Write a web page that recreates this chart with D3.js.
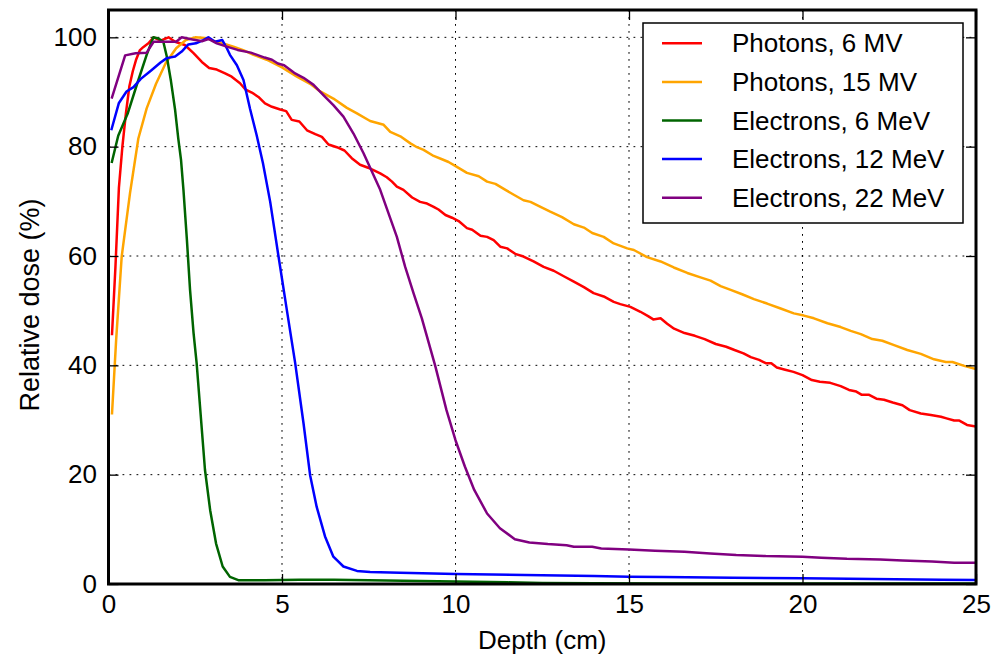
<!DOCTYPE html>
<html>
<head>
<meta charset="utf-8">
<script src="https://cdn.jsdelivr.net/npm/d3@7/dist/d3.min.js"></script>
<style>
  html, body { margin: 0; padding: 0; background: #fff; }
  svg { display: block; font-family: "Liberation Sans", Arial, sans-serif; }
</style>
</head>
<body>
<svg id="chart" width="994" height="660"></svg>
<script>
// ---- Data ----
const seriesNames = ["Photons, 6 MV", "Photons, 15 MV", "Electrons, 6 MeV", "Electrons, 12 MeV", "Electrons, 22 MeV"];
const seriesColors = ["#ff0000", "#ffa500", "#006400", "#0000ff", "#800080"];

const redDepth = [0.1,0.2,0.3,0.4,0.5,0.6,0.7,0.8,0.9,1.0,1.15,1.3,1.5,1.73,1.92,2.2,2.45,2.69,2.9,3.12,3.36,3.55,3.79,3.94,4.13,4.32,4.51,4.71,4.95,5.12,5.28,5.5,5.72,5.96,6.15,6.34,6.58,6.8,7.01,7.25,7.5,7.83,8.02,8.17,8.31,8.5,8.75,8.98,9.18,9.37,9.51,9.71,9.9,10.09,10.33,10.48,10.72,10.91,11.1,11.29,11.49,11.72,11.96,12.25,12.54,12.83,13.12,13.41,13.7,13.98,14.27,14.56,14.75,15.04,15.33,15.55,15.7,15.91,16.1,16.3,16.6,16.9,17.18,17.5,17.8,18.04,18.3,18.51,18.75,18.94,19.1,19.26,19.5,19.74,20.0,20.27,20.5,20.8,21.1,21.34,21.55,21.71,21.92,22.13,22.35,22.6,22.88,23.09,23.41,23.7,23.99,24.15,24.37,24.52,24.74,25.0];
const redDose = [45.5,58,72.5,80,86,91,93.8,96,97.6,98.2,98.9,100,99.4,100,99.2,98.6,97.1,95.5,94.4,94.1,93.4,92.8,91.6,90.5,89.9,89.1,87.9,87.3,86.8,86.5,84.9,84.6,83.0,82.3,81.8,80.4,79.9,79.3,77.9,76.7,76.1,75.1,74.4,73.6,72.7,72.1,70.7,69.9,69.6,69.0,68.5,67.5,67.0,66.4,65.1,64.8,63.7,63.5,62.9,61.7,61.4,60.4,59.9,59.0,58.0,57.3,56.3,55.3,54.3,53.2,52.6,51.6,51.2,50.7,49.8,49.0,48.4,48.6,47.6,46.7,45.9,45.4,44.8,43.9,43.4,42.8,42.2,41.5,41.0,40.4,40.4,39.6,39.2,38.8,38.2,37.3,37.0,36.8,36.2,35.5,35.2,34.6,34.6,33.9,33.7,33.2,32.7,31.8,31.2,30.9,30.6,30.3,29.9,29.9,29.1,28.8];

const orangeDepth = [0.1,0.22,0.38,0.62,0.86,1.1,1.37,1.65,1.95,2.23,2.5,2.78,3.02,3.3,3.6,3.9,4.18,4.56,5.0,5.43,5.81,6.1,6.48,6.87,7.16,7.54,7.93,8.12,8.41,8.7,8.89,9.08,9.37,9.61,9.8,10.04,10.33,10.67,10.91,11.15,11.44,11.68,11.96,12.16,12.45,12.73,13.07,13.41,13.7,13.94,14.27,14.56,14.95,15.14,15.52,15.91,16.29,16.68,17.06,17.35,17.64,17.93,18.26,18.6,18.98,19.37,19.75,20.04,20.33,20.72,21.1,21.39,21.68,22.01,22.3,22.64,23.02,23.41,23.79,24.13,24.32,24.66,25.0];
const orangeDose = [31,44.6,59.9,71.5,81.5,87.0,91.5,95.3,98.0,99.5,100,99.9,99.4,98.9,98.3,97.6,96.8,95.9,94.5,92.8,91.5,90.1,88.8,87.1,86.1,84.7,84.0,82.7,81.9,80.6,79.9,79.4,78.3,77.7,77.2,76.3,75.2,74.6,73.6,73.2,72.1,71.2,70.2,69.9,69.0,68.1,67.1,65.8,65.2,64.2,63.5,62.3,61.4,61.1,59.8,59.0,57.9,56.9,56.1,55.5,54.5,53.8,53.0,52.1,51.3,50.4,49.5,49.1,48.6,47.7,47.0,46.3,45.7,44.8,44.5,43.7,42.8,42.1,41.1,40.6,40.6,39.9,39.3];

const greenDepth = [0.09,0.28,0.55,0.83,1.1,1.29,1.44,1.58,1.68,1.8,1.92,2.01,2.09,2.16,2.26,2.35,2.45,2.54,2.78,2.93,3.1,3.29,3.5,3.74,4.5,5.5,6.5,7.5,8.5,9.5,10.5,11.5,12.5,14,16,18,20,22,25];
const greenDose = [77,82,86,91.6,96.8,100,99.8,99.2,96.5,92,86.7,81.5,77.6,72.1,62.9,53.8,46,40.4,20.9,13.5,7.4,3.2,1.3,0.7,0.7,0.8,0.8,0.7,0.6,0.5,0.4,0.3,0.2,0.15,0.1,0.1,0.1,0.1,0.1];

const blueDepth = [0.08,0.3,0.52,0.72,0.93,1.22,1.5,1.68,1.92,2.11,2.3,2.52,2.73,2.88,3.07,3.28,3.41,3.5,3.7,3.89,4.08,4.27,4.45,4.66,4.9,5.14,5.38,5.62,5.81,6.0,6.24,6.48,6.77,7.16,7.54,8.4,10,12,14,15,16,18,20,22,24,25];
const blueDose = [83,88,90.1,90.9,92.4,93.9,95.4,96.2,96.5,97.4,98.7,98.9,99.5,100,99.2,99.5,98.0,96.8,94.9,92.2,86.9,82.1,77,69.9,59.9,50.1,40.4,29.4,19.9,14.1,8.7,5.0,3.2,2.4,2.2,2.07,1.83,1.65,1.45,1.34,1.27,1.15,1.03,0.92,0.8,0.74];

const purpleDepth = [0.09,0.48,0.78,1.1,1.3,1.68,1.95,2.11,2.42,2.71,2.88,3.12,3.41,3.72,4.1,4.5,4.71,4.88,5.06,5.35,5.62,5.91,6.2,6.48,6.77,7.06,7.35,7.83,8.07,8.31,8.55,8.79,9.03,9.15,9.42,9.74,10.0,10.27,10.54,10.91,11.28,11.71,12.13,12.66,13.2,13.41,13.94,14.2,15.0,15.75,16.6,17.34,18.09,18.94,20.0,20.54,21.28,22.24,22.88,23.73,24.37,25.0];
const purpleDose = [88.8,96.7,97.1,97.2,99.2,99.2,99.2,100,99.6,99.3,99.7,98.9,98.3,97.7,97.2,96.3,95.9,95.2,94.9,93.5,92.6,91.3,89.4,87.6,85.5,82.4,78.8,72.1,67.8,63.5,58.0,53.2,48.6,45.9,39.8,31.8,26.3,21.5,17.2,12.9,10.2,8.2,7.6,7.3,7.1,6.8,6.8,6.5,6.3,6.1,5.9,5.6,5.3,5.1,5.0,4.8,4.6,4.5,4.3,4.1,3.9,3.9];

const xTicks = [0, 5, 10, 15, 20, 25];
const yTicks = [0, 20, 40, 60, 80, 100];
const xLabel = "Depth (cm)";
const yLabel = "Relative dose (%)";

// ---- Build ----
const depths = [redDepth, orangeDepth, greenDepth, blueDepth, purpleDepth];
const doses = [redDose, orangeDose, greenDose, blueDose, purpleDose];
const series = seriesNames.map((name, i) => ({
  name, color: seriesColors[i],
  points: depths[i].map((d, j) => [d, doses[i][j]])
}));

const svg = d3.select("#chart");
const margin = { left: 108.5, right: 994 - 976, top: 10, bottom: 660 - 584 };
const W = 994, H = 660;
const x = d3.scaleLinear().domain([0, 25]).range([margin.left, W - margin.right]);
const y = d3.scaleLinear().domain([0, 105]).range([H - margin.bottom, margin.top]);

const FS = 26;

// grid
const grid = svg.append("g").attr("stroke", "#000").attr("stroke-width", 1).attr("stroke-dasharray", "1.8,5.2");
grid.selectAll("line.gx").data(xTicks.slice(1, -1)).join("line")
  .attr("x1", d => x(d)).attr("x2", d => x(d)).attr("y1", y(105)).attr("y2", y(0));
grid.selectAll("line.gy").data(yTicks.slice(1)).join("line")
  .attr("y1", d => y(d)).attr("y2", d => y(d)).attr("x1", x(0)).attr("x2", x(25));

// clip
svg.append("clipPath").attr("id", "clip").append("rect")
  .attr("x", x(0)).attr("y", y(105)).attr("width", x(25) - x(0)).attr("height", y(0) - y(105));

const line = d3.line().x(d => x(d[0])).y(d => y(d[1]));
svg.append("g").attr("clip-path", "url(#clip)")
  .selectAll("path").data(series).join("path")
  .attr("d", d => line(d.points))
  .attr("fill", "none").attr("stroke", d => d.color).attr("stroke-width", 2.5)
  .attr("stroke-linejoin", "round");

// axes with inward ticks on all four sides
const tl = 10;
const axB = d3.axisBottom(x).tickValues(xTicks).tickSize(-tl).tickPadding(11).tickFormat(d3.format("d"));
const axT = d3.axisTop(x).tickValues(xTicks).tickSize(-tl).tickFormat("");
const axL = d3.axisLeft(y).tickValues(yTicks).tickSize(-tl).tickPadding(11.5).tickFormat(d3.format("d"));
const axR = d3.axisRight(y).tickValues(yTicks).tickSize(-tl).tickFormat("");

function style(g) {
  g.select(".domain").remove();
  g.selectAll(".tick line").attr("stroke", "#000").attr("stroke-width", 1.3);
  g.selectAll(".tick text").attr("fill", "#000").attr("font-size", FS)
    .attr("font-family", "'Liberation Sans', Arial, sans-serif");
}
svg.append("g").attr("transform", `translate(0,${y(0)})`).call(axB).call(style);
svg.append("g").attr("transform", `translate(0,${y(105)})`).call(axT).call(style);
svg.append("g").attr("transform", `translate(${x(0)},0)`).call(axL).call(style);
svg.append("g").attr("transform", `translate(${x(25)},0)`).call(axR).call(style);

// frame
svg.append("rect").attr("x", x(0)).attr("y", y(105)).attr("width", x(25) - x(0)).attr("height", y(0) - y(105))
  .attr("fill", "none").attr("stroke", "#000").attr("stroke-width", 3);

// axis labels
svg.append("text").attr("x", (x(0) + x(25)) / 2).attr("y", 640).attr("dy", "0.35em")
  .attr("text-anchor", "middle").attr("font-size", FS).text(xLabel);
svg.append("text").attr("transform", `translate(30,${(y(0) + y(105)) / 2 + 8}) rotate(-90)`).attr("dy", "0.35em")
  .attr("text-anchor", "middle").attr("font-size", 27).text(yLabel);

// legend
const lg = svg.append("g");
lg.append("rect").attr("x", 643).attr("y", 23).attr("width", 320).attr("height", 200)
  .attr("fill", "#fff").attr("stroke", "#000").attr("stroke-width", 1.5);
const rowY = d3.scalePoint().domain(seriesNames).range([43.3, 197.7]);
const items = lg.selectAll("g.item").data(series).join("g")
  .attr("transform", d => `translate(0,${rowY(d.name)})`);
items.append("line").attr("x1", 662).attr("x2", 702).attr("stroke", d => d.color).attr("stroke-width", 2.5);
items.append("text").attr("x", 732).attr("dy", "0.35em").attr("font-size", FS).text(d => d.name);
</script>
</body>
</html>
